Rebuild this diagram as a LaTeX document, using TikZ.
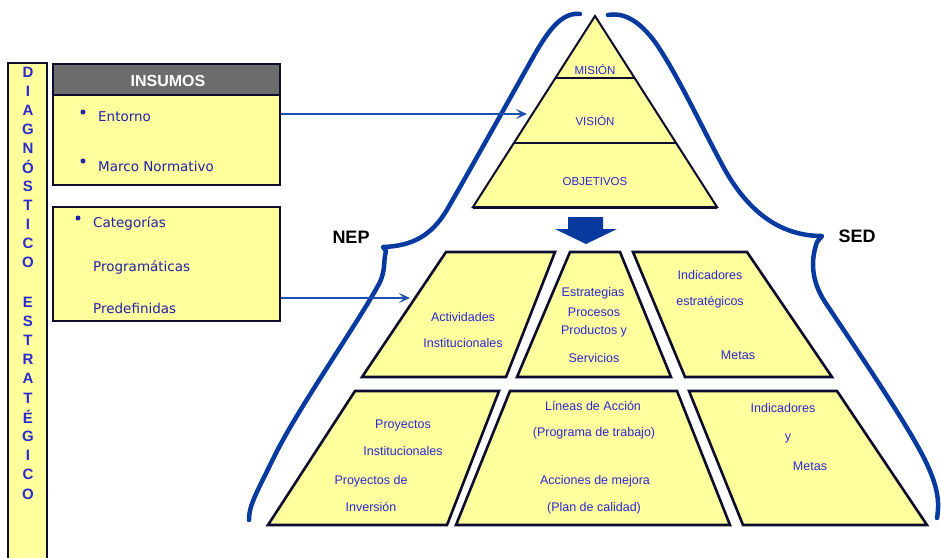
\documentclass[tikz,border=0pt]{standalone}
\usepackage{fontspec}
\setmainfont{DejaVu Sans}
\newfontfamily\arialf{Liberation Sans}
\usetikzlibrary{arrows.meta}

\definecolor{paleyellow}{HTML}{FFFF9E}
\definecolor{braceblue}{HTML}{073A9E}
\definecolor{txtblue}{HTML}{2A2AD0}
\definecolor{boxblue}{HTML}{2222A8}
\definecolor{navy}{HTML}{0C0C2C}
\definecolor{headgray}{HTML}{6C6C6C}
\definecolor{linkblue}{HTML}{1F4FB0}

\begin{document}
\begin{tikzpicture}[x=1pt,y=-1pt,
  panel/.style={draw=navy, line width=2.6pt, fill=paleyellow, inner sep=0pt},
  piece/.style={draw=navy, line width=2.6pt, fill=paleyellow, line join=miter},
  brace/.style={draw=braceblue, line width=4.5pt, line cap=round, line join=round},
  link/.style={draw=linkblue, line width=1.3pt, -{Stealth[length=11pt,width=10pt,inset=5pt]}},
  boxtext/.style={font=\fontsize{13.5}{15}\selectfont, text=boxblue, anchor=base west, inner sep=0pt},
  dot/.style={circle, fill=boxblue, inner sep=0pt, minimum size=5pt},
  barletter/.style={font=\arialf\bfseries\fontsize{15}{17}\selectfont, text=txtblue, inner sep=0pt},
  ptext/.style={font=\arialf\fontsize{12.5}{14}\selectfont, text=txtblue, inner sep=0pt},
  toptext/.style={font=\arialf\fontsize{11.5}{13}\selectfont, text=txtblue, inner sep=0pt},
  bigtag/.style={font=\arialf\bfseries\fontsize{18}{20}\selectfont, text=black, inner sep=0pt}
]
\useasboundingbox (0,0) rectangle (941,557);

% ---- vertical banner on the left ----
\node[panel, minimum width=39pt, minimum height=504pt] (bar) at (27.5,315) {};
\foreach \ch [count=\i from 0] in {D,I,A,G,N,Ó,S,T,I,C,O}
  \node[barletter] (da\i) at (28,72+19*\i) {\ch};
\foreach \ch [count=\i from 0] in {E,S,T,R,A,T,É,G,I,C,O}
  \node[barletter] (es\i) at (28,302+19.2*\i) {\ch};

% ---- INSUMOS header and boxes ----
\node[draw=navy, line width=2pt, fill=headgray, minimum width=227pt, minimum height=31pt, inner sep=0pt]
  (head) at (166.5,79.5) {};
\node[font=\arialf\bfseries\fontsize{16}{18}\selectfont, text=white, inner sep=0pt] (headtxt) at (168,81) {INSUMOS};

\node[panel, minimum width=227pt, minimum height=90pt] (box1) at (166.5,140) {};
\node[dot] (b1) at (83,112) {};
\node[boxtext] (t1) at (98,121) {Entorno};
\node[dot] (b2) at (83,161) {};
\node[boxtext] (t2) at (98,171) {Marco Normativo};

\node[panel, minimum width=227pt, minimum height=114pt] (box2) at (166.5,264) {};
\node[dot] (b3) at (78,218) {};
\node[boxtext] (t3) at (93,227) {Categorías};
\node[boxtext] (t4) at (93,271) {Programáticas};
\node[boxtext] (t5) at (93,313) {Predefinidas};

% ---- curly braces around the pyramid ----
\draw[brace] (580,14) .. controls (563,12) and (550,28) .. (536,52)
  .. controls (510,98) and (470,170) .. (448,208)
  .. controls (432,236) and (412,246) .. (383,247)
  -- (386,251)
  .. controls (383,262) and (386,268) .. (380,282)
  .. controls (360,320) and (300,405) .. (275,455)
  .. controls (256,494) and (249,505) .. (249,520);
\draw[brace] (608,15) .. controls (625,12) and (640,22) .. (655,42)
  .. controls (678,75) and (702,128) .. (725,170)
  .. controls (750,214) and (782,236) .. (822,236)
  -- (817,242)
  .. controls (810,262) and (812,282) .. (825,302)
  .. controls (850,340) and (905,420) .. (925,460)
  .. controls (937,485) and (940,500) .. (937,518);

\node[bigtag] (nep) at (351,237) {NEP};
\node[bigtag] (sed) at (857,236) {SED};

% ---- upper pyramid ----
\draw[fill=paleyellow, draw=navy, line width=2pt, line join=miter] (595,16) -- (717,207) -- (473,207) -- cycle;
\draw[navy, line width=2.6pt] (555,78) -- (635,78);
\draw[navy, line width=2.6pt] (513,143) -- (677,143);
\draw[navy, line width=3pt] (473,207) -- (717,207);
\node[toptext] (mision) at (595,70) {MISIÓN};
\node[toptext] (vision) at (595,121) {VISIÓN};
\node[toptext] (objetivos) at (595,182) {OBJETIVOS};

% ---- block arrow down ----
\fill[braceblue] (568,217) -- (603,217) -- (603,229) -- (617,229) -- (586,244) -- (555,229) -- (568,229) -- cycle;

% ---- lower pyramid, upper row ----
\draw[piece] (446,252) -- (555,252) -- (506,377) -- (362,377) -- cycle;
\draw[piece] (570,252) -- (620,252) -- (671,377) -- (517,377) -- cycle;
\draw[piece] (633,252) -- (747,252) -- (832,377) -- (685,377) -- cycle;

\node[ptext] (a1) at (463,317) {Actividades};
\node[ptext] (a2) at (463,343) {Institucionales};

\node[ptext] (e1) at (593,293) {Estrategias};
\node[ptext] (e2) at (594,312) {Procesos};
\node[ptext] (e3) at (594,331) {Productos y};
\node[ptext] (e4) at (594,358) {Servicios};

\node[ptext] (i1) at (710,275) {Indicadores};
\node[ptext] (i2) at (710,302) {estratégicos};
\node[ptext] (i3) at (738,355) {Metas};

% ---- lower pyramid, bottom row ----
\draw[piece] (355,391) -- (499,391) -- (447,525) -- (268,525) -- cycle;
\draw[piece] (510,391) -- (677,391) -- (730,525) -- (456,525) -- cycle;
\draw[piece] (689,391) -- (837,391) -- (927,525) -- (743,525) -- cycle;

\node[ptext] (p1) at (403,425) {Proyectos};
\node[ptext] (p2) at (403,451) {Institucionales};
\node[ptext] (p3) at (371,481) {Proyectos de};
\node[ptext] (p4) at (371,507) {Inversión};

\node[ptext] (l1) at (593,406) {Líneas de Acción};
\node[ptext] (l2) at (594,433) {(Programa de trabajo)};
\node[ptext] (l3) at (595,481) {Acciones de mejora};
\node[ptext] (l4) at (594,508) {(Plan de calidad)};

\node[ptext] (m1) at (783,408) {Indicadores};
\node[ptext] (m2) at (788,438) {y};
\node[ptext] (m3) at (810,466) {Metas};

% ---- links from the input boxes ----
\coordinate (visionin) at (527,114);
\coordinate (actin) at (410,298);
\draw[link] (box1.east |- visionin) -- (visionin);
\draw[link] (box2.east |- actin) -- (actin);
\end{tikzpicture}
\end{document}
